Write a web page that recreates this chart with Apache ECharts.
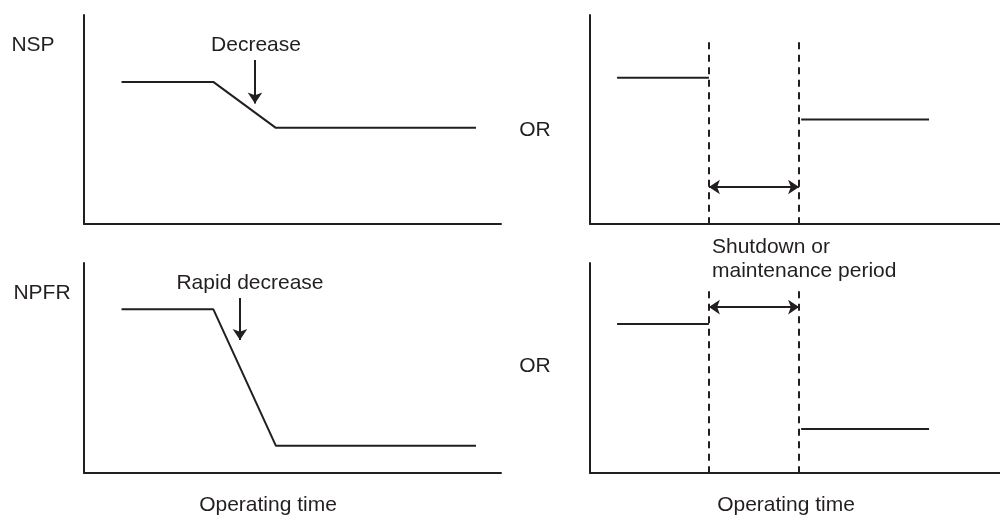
<!DOCTYPE html>
<html>
<head>
<meta charset="utf-8">
<script src="https://cdn.jsdelivr.net/npm/echarts@6/dist/echarts.min.js"></script>
<style>
  html, body { margin: 0; padding: 0; background: #fff; }
  #chart { width: 1000px; height: 519px; }
</style>
</head>
<body>
<div id="chart"></div>
<script>
// 左侧两张图：时间点和数值
var timeLeft = [9, 31, 46, 94];
var nspLeft = [68, 68, 46, 46];
var npfrLeft = [78, 78, 13, 13];

// 右侧两张图：停机前/停机后
var timeBefore = [6.6, 29];
var timeAfter = [51.5, 82.7];
var shutdownStart = 29;
var shutdownEnd = 51;
var nspBefore = [70, 70];
var nspAfter = [50, 50];
var npfrBefore = [71, 71];
var npfrAfter = [21, 21];

// 箭头（数据坐标）
var decreaseArrow = [41, 78.5, 57.6];       // x, 起点y, 终点y
var rapidArrow = [37.4, 83.3, 63.3];
var dashTopNsp = 87;
var dashTopNpfr = 86.6;
var periodArrowNsp = 17.7;
var periodArrowNpfr = 79;

var ink = '#231f20';
var font = 'Liberation Sans, Arial, sans-serif';

function pts(xs, ys) {
    return xs.map(function (x, i) { return [x, ys[i]]; });
}

function axisX(i) {
    return {
        type: 'value', gridIndex: i, min: 0, max: 100,
        axisLine: { show: true, lineStyle: { color: ink, width: 2 } },
        axisTick: { show: false }, axisLabel: { show: false }, splitLine: { show: false }
    };
}
function axisY(i) {
    return {
        type: 'value', gridIndex: i, min: 0, max: 100,
        axisLine: { show: true, lineStyle: { color: ink, width: 2 } },
        axisTick: { show: false }, axisLabel: { show: false }, splitLine: { show: false }
    };
}

function line(i, data, markLine) {
    var s = {
        type: 'line', xAxisIndex: i, yAxisIndex: i, data: data,
        symbol: 'none', silent: true,
        lineStyle: { color: ink, width: 2 }
    };
    if (markLine) s.markLine = markLine;
    return s;
}

// 向下的箭头
function downArrow(a) {
    return {
        silent: true, symbol: ['none', 'arrow'], symbolSize: [11, 11],
        label: { show: false },
        lineStyle: { color: ink, width: 2, type: 'solid' },
        itemStyle: { color: ink },
        data: [[{ coord: [a[0], a[1]] }, { coord: [a[0], a[2]] }]]
    };
}

// 虚线（从上往下画） + 双向箭头
function shutdownMarks(top, arrowY) {
    return {
        silent: true, symbol: 'none',
        label: { show: false },
        lineStyle: { color: ink, width: 2, type: [7, 5.5] },
        data: [
            [{ coord: [shutdownStart, top] }, { coord: [shutdownStart, 0] }],
            [{ coord: [shutdownEnd, top] }, { coord: [shutdownEnd, 0] }],
            [{ coord: [shutdownStart, arrowY], symbol: 'arrow', symbolSize: [11, 11],
               lineStyle: { type: 'solid' } },
             { coord: [shutdownEnd, arrowY], symbol: 'arrow', symbolSize: [11, 11] }]
        ]
    };
}

function text(str, x, y, align) {
    return {
        type: 'text', x: x, y: y, silent: true,
        style: {
            text: str, fill: ink, font: '21px ' + font,
            align: align || 'center', verticalAlign: 'middle'
        }
    };
}

var option = {
    animation: false,
    backgroundColor: '#fff',
    grid: [
        { left: 84, top: 15, width: 417, height: 209 },
        { left: 590, top: 15, width: 410, height: 209 },
        { left: 84, top: 263, width: 417, height: 210 },
        { left: 590, top: 263, width: 410, height: 210 }
    ],
    xAxis: [axisX(0), axisX(1), axisX(2), axisX(3)],
    yAxis: [axisY(0), axisY(1), axisY(2), axisY(3)],
    series: [
        line(0, pts(timeLeft, nspLeft), downArrow(decreaseArrow)),
        line(1, pts(timeBefore, nspBefore), shutdownMarks(dashTopNsp, periodArrowNsp)),
        line(1, pts(timeAfter, nspAfter)),
        line(2, pts(timeLeft, npfrLeft), downArrow(rapidArrow)),
        line(3, pts(timeBefore, npfrBefore), shutdownMarks(dashTopNpfr, periodArrowNpfr)),
        line(3, pts(timeAfter, npfrAfter))
    ],
    graphic: [
        text('NSP', 33, 45),
        text('NPFR', 42, 293),
        text('Decrease', 256, 45),
        text('Rapid decrease', 250, 283),
        text('OR', 535, 130),
        text('OR', 535, 366),
        text('Shutdown or', 712, 247, 'left'),
        text('maintenance period', 712, 271, 'left'),
        text('Operating time', 268, 505),
        text('Operating time', 786, 505)
    ]
};

var myChart = echarts.init(document.getElementById('chart'));
myChart.setOption(option);
</script>
</body>
</html>
